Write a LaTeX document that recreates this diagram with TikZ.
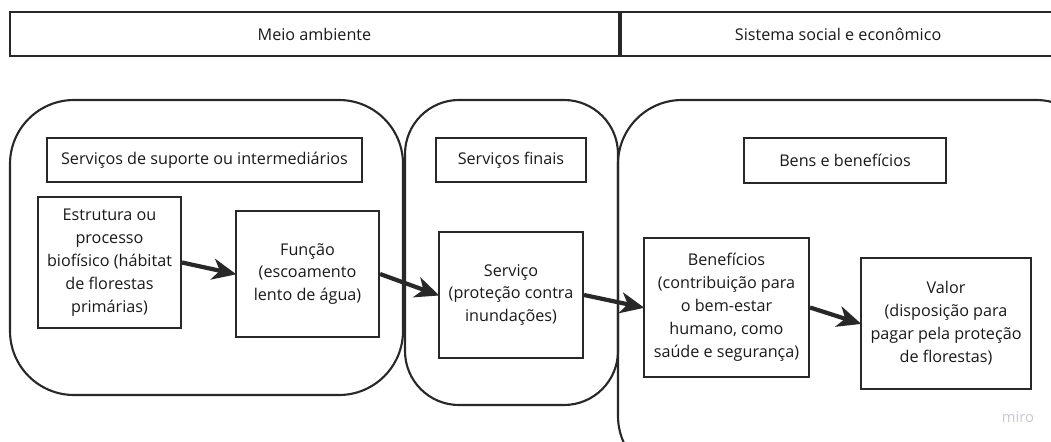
\documentclass[tikz,border=0pt]{standalone}
\usepackage{fontspec}
\setmainfont{Open Sans}
\usetikzlibrary{arrows.meta}
\definecolor{inkgray}{RGB}{40, 40, 40}
\definecolor{marklight}{RGB}{200, 200, 210}
\newlength\pxu
\setlength\pxu{0.025cm}
\tikzset{
  textbox/.style 2 args={draw=inkgray, line width=1.5pt, align=center, inner sep=0pt,
    minimum width=#1\pxu, minimum height=#2\pxu, font=\fontsize{11.5}{16.3}\selectfont, text=black!90},
  zone/.style={draw=inkgray, line width=1.5pt, rounded corners=#1\pxu},
  flow/.style={draw=inkgray, line width=3pt, -{Stealth[length=17pt, width=15pt, inset=5pt]}, shorten >=-1pt}
}
\begin{document}
\begin{tikzpicture}[x=0.025cm, y=-0.025cm]
\useasboundingbox (0,0) rectangle (1051,441);
\clip (0,0) rectangle (1051,441);
% Header
\node[textbox={609}{44}] (meio) at (314.5,34) {Meio ambiente};
\node[textbox={434}{44}, anchor=west] (sistema) at (meio.east) {Sistema social e econômico};
% Grouping zones
\draw[zone=64] (10,100) rectangle (403,395);
\draw[zone=54] (405,100) rectangle (618,405);
\draw[zone=64] (618,100) rectangle (1100,480);
% Group titles
\node[textbox={315}{44}] (suporte) at (204.5,160) {Serviços de suporte ou intermediários};
\node[textbox={150}{44}] (finais) at (511,160) {Serviços finais};
\node[textbox={202}{45}] (bens) at (845,160.5) {Bens e benefícios};
% Steps
\node[textbox={143}{131}] (estr) at (109.5,262.5) {Estrutura ou\\processo\\biofísico (hábitat\\de florestas\\primárias)};
\node[textbox={143}{126}] (func) at (307.5,274) {Função\\(escoamento\\lento de água)};
\node[textbox={144}{126}] (serv) at (511,295) {Serviço\\(proteção contra\\inundações)};
\node[textbox={165}{139}] (benef) at (726.5,307.5) {Benefícios\\(contribuição para\\o bem-estar\\humano, como\\saúde e segurança)};
\node[textbox={170}{131}] (valor) at (946,323.5) {Valor\\(disposição para\\pagar pela proteção\\de florestas)};
% Connectors
\draw[flow] (estr.east) -- (func.west);
\draw[flow] (func.east) -- (serv.west);
\draw[flow] (serv.east) -- (benef.west);
\draw[flow] (benef.east) -- (valor.west);
% Watermark
\node[text=marklight, font=\fontsize{10.5}{12}\selectfont] (miro) at (1018,417) {miro};
\end{tikzpicture}
\end{document}
